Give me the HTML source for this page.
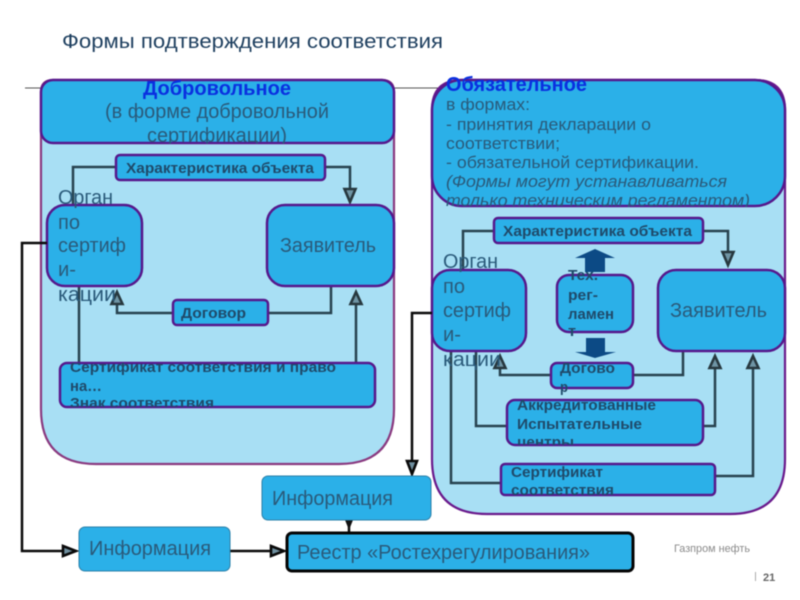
<!DOCTYPE html>
<html><head><meta charset="utf-8">
<style>
html,body{margin:0;padding:0;background:#fff;width:800px;height:600px;overflow:hidden}
svg{display:block;font-family:"Liberation Sans",sans-serif;filter:blur(0.45px)}
.o{fill:#a8dff4;stroke-width:2.2}
.b{fill:#2bb0e8;stroke:#56188c;stroke-width:2.5}
.i{fill:#2bb0e8;stroke:#2a7fa8;stroke-width:1}
.l{fill:none;stroke:#27424f;stroke-width:2.5}
.k{fill:none;stroke:#0a0a0a;stroke-width:2.5}
.a{fill:#6f95a5;stroke:#27383f;stroke-width:2.6}
.ak{fill:#6f8f9f;stroke:#0a0a0a;stroke-width:2.6}
.t{fill:#2a5a7a;font-size:20px}
.s{fill:#1f4a6a;font-size:14.5px;font-weight:bold}
.h{fill:#0a30e0;font-size:20px;font-weight:bold}
</style></head><body>
<svg width="800" height="600" viewBox="0 0 800 600" xmlns="http://www.w3.org/2000/svg">
<defs>
<clipPath id="c1"><rect x="41" y="70" width="353" height="73.5"/></clipPath>
<clipPath id="c2"><rect x="432" y="70" width="353" height="137"/></clipPath>
<clipPath id="c3"><rect x="60" y="363" width="315" height="44"/></clipPath>
<clipPath id="c4"><rect x="507" y="400" width="196" height="45"/></clipPath>
<clipPath id="c5"><rect x="501" y="464" width="214" height="32"/></clipPath>
</defs>

<text x="62" y="48" fill="#1f4060" font-size="20.5" textLength="381" lengthAdjust="spacingAndGlyphs">Формы подтверждения соответствия</text>
<line x1="25" y1="88" x2="445" y2="88" stroke="#555" stroke-width="1"/>

<!-- left panel -->
<path class="o" stroke="#8a3a80" d="M41 92 Q41 80 53 80 H382 Q394 80 394 92 V409 Q394 464 339 464 H96 Q41 464 41 409 Z"/>
<rect class="b" x="41" y="80" width="353" height="63" rx="12"/>
<g clip-path="url(#c1)">
<text class="h" x="143" y="95" textLength="148" lengthAdjust="spacingAndGlyphs">Добровольное</text>
<text class="t" x="105" y="118" textLength="224" lengthAdjust="spacingAndGlyphs">(в форме добровольной</text>
<text class="t" x="147" y="142" textLength="140" lengthAdjust="spacingAndGlyphs">сертификации)</text>
</g>

<path class="l" d="M116 167H73V205"/>
<path class="l" d="M325 167H350V190"/>
<path class="a" d="M344.5 189H355.5L350 202Z"/>
<path class="l" d="M173 313H117V300"/>
<path class="a" d="M117 292L122.500 304H111.500Z"/>
<path class="l" d="M268 313H331V286"/>
<path class="l" d="M356 363V300"/>
<path class="a" d="M356 292L361.500 304H350.500Z"/>
<path class="l" d="M79 363V286"/>

<rect class="b" x="116" y="155" width="209" height="25" rx="4"/>
<text class="s" x="126" y="173" textLength="188" lengthAdjust="spacingAndGlyphs">Характеристика объекта</text>
<rect class="b" x="47" y="205" width="95" height="81" rx="18"/>
<text class="t" x="58" y="204" textLength="55" lengthAdjust="spacingAndGlyphs">Орган</text>
<text class="t" x="58" y="229" textLength="22" lengthAdjust="spacingAndGlyphs">по</text>
<text class="t" x="58" y="252" textLength="68" lengthAdjust="spacingAndGlyphs">сертиф</text>
<text class="t" x="58" y="276" textLength="18" lengthAdjust="spacingAndGlyphs">и-</text>
<text class="t" x="58" y="301" textLength="58" lengthAdjust="spacingAndGlyphs">кации</text>
<rect class="b" x="267" y="205" width="127" height="81" rx="18"/>
<text class="t" x="280" y="252" textLength="96" lengthAdjust="spacingAndGlyphs">Заявитель</text>
<rect class="b" x="173" y="300" width="95" height="25" rx="4"/>
<text class="s" x="181" y="318" textLength="65" lengthAdjust="spacingAndGlyphs">Договор</text>
<rect class="b" x="60" y="363" width="315" height="44" rx="7"/>
<g clip-path="url(#c3)">
<text class="s" x="70" y="372" textLength="266" lengthAdjust="spacingAndGlyphs">Сертификат соответствия и право</text>
<text class="s" x="70" y="391" textLength="32" lengthAdjust="spacingAndGlyphs">на…</text>
<text class="s" x="70" y="408" textLength="144" lengthAdjust="spacingAndGlyphs">Знак соответствия</text>
</g>

<!-- right panel -->
<path class="o" stroke="#6a1a8c" d="M432 110 Q432 80 462 80 H755 Q785 80 785 110 V459 Q785 514 730 514 H487 Q432 514 432 459 Z"/>
<rect class="b" x="432" y="80" width="353" height="126" rx="30"/>
<g clip-path="url(#c2)">
<text class="h" x="446" y="91" textLength="141" lengthAdjust="spacingAndGlyphs">Обязательное</text>
<g fill="#2a5a7a" font-size="16.5">
<text x="446" y="110" textLength="84" lengthAdjust="spacingAndGlyphs">в формах:</text>
<text x="446" y="130" textLength="205" lengthAdjust="spacingAndGlyphs">- принятия декларации о</text>
<text x="446" y="149" textLength="114" lengthAdjust="spacingAndGlyphs">соответствии;</text>
<text x="446" y="168" textLength="253" lengthAdjust="spacingAndGlyphs">- обязательной сертификации.</text>
<text x="446" y="187" textLength="281" lengthAdjust="spacingAndGlyphs" font-style="italic">(Формы могут устанавливаться</text>
<text x="446" y="206" textLength="304" lengthAdjust="spacingAndGlyphs" font-style="italic">только техническим регламентом)</text>
</g>
</g>

<path class="l" d="M494 231H463V270"/>
<path class="l" d="M703 231H728V253"/>
<path class="a" d="M722.500 252H733.500L728 265Z"/>
<path class="l" d="M551 375H500V365"/>
<path class="a" d="M500 356L505.500 368H494.500Z"/>
<path class="l" d="M633 375H683V351"/>
<path class="l" d="M507 426H476V351"/>
<path class="l" d="M703 426H715V365"/>
<path class="a" d="M715 356L720.500 368H709.500Z"/>
<path class="l" d="M501 483H451V351"/>
<path class="l" d="M715 476H753V365"/>
<path class="a" d="M753 356L758.500 368H747.500Z"/>
<path d="M575 258L595 249L615 258H605V272H585V258Z" fill="#0c4a85"/>
<path d="M586 338H605V352H616L595 358L575 352H586Z" fill="#0c4a85"/>

<rect class="b" x="494" y="218" width="209" height="25" rx="4"/>
<text class="s" x="503" y="236" textLength="189" lengthAdjust="spacingAndGlyphs">Характеристика объекта</text>
<rect class="b" x="432" y="270" width="94" height="81" rx="18"/>
<text class="t" x="443" y="268" textLength="55" lengthAdjust="spacingAndGlyphs">Орган</text>
<text class="t" x="443" y="293" textLength="22" lengthAdjust="spacingAndGlyphs">по</text>
<text class="t" x="443" y="317" textLength="68" lengthAdjust="spacingAndGlyphs">сертиф</text>
<text class="t" x="443" y="341" textLength="18" lengthAdjust="spacingAndGlyphs">и-</text>
<text class="t" x="443" y="366" textLength="58" lengthAdjust="spacingAndGlyphs">кации</text>
<rect class="b" x="557" y="275" width="76" height="57" rx="12"/>
<text class="s" x="568" y="280" textLength="30" lengthAdjust="spacingAndGlyphs">Тех.</text>
<text class="s" x="568" y="300" textLength="30" lengthAdjust="spacingAndGlyphs">рег-</text>
<text class="s" x="568" y="319" textLength="46" lengthAdjust="spacingAndGlyphs">ламен</text>
<text class="s" x="568" y="336" textLength="8" lengthAdjust="spacingAndGlyphs">т</text>
<rect class="b" x="658" y="270" width="127" height="81" rx="18"/>
<text class="t" x="670" y="317" textLength="97" lengthAdjust="spacingAndGlyphs">Заявитель</text>
<rect class="b" x="551" y="363" width="82" height="25" rx="6"/>
<text class="s" x="560" y="373" textLength="55" lengthAdjust="spacingAndGlyphs">Догово</text>
<text class="s" x="560" y="392" textLength="8" lengthAdjust="spacingAndGlyphs">р</text>
<rect class="b" x="507" y="400" width="196" height="45" rx="8"/>
<g clip-path="url(#c4)">
<text class="s" x="517" y="410" textLength="139" lengthAdjust="spacingAndGlyphs">Аккредитованные</text>
<text class="s" x="517" y="429" textLength="125" lengthAdjust="spacingAndGlyphs">Испытательные</text>
<text class="s" x="517" y="447" textLength="57" lengthAdjust="spacingAndGlyphs">центры</text>
</g>
<rect class="b" x="501" y="464" width="214" height="31" rx="4"/>
<g clip-path="url(#c5)">
<text class="s" x="511" y="477" textLength="92" lengthAdjust="spacingAndGlyphs">Сертификат</text>
<text class="s" x="511" y="495" textLength="103" lengthAdjust="spacingAndGlyphs">соответствия</text>
</g>

<!-- black connectors -->
<path class="k" d="M47 243H22V551H64"/>
<path class="ak" d="M63 546L76 551L63 556Z"/>
<path class="k" d="M432 313H412V462"/>
<path class="ak" d="M407 461H417L412 474Z"/>
<path class="k" d="M230 551H272"/>
<path class="ak" d="M271 546L284 551L271 556Z"/>
<path class="k" d="M349 520V532"/>
<path d="M345 520H353L349 530Z" fill="#111"/>

<rect class="i" x="262" y="476" width="169" height="44" rx="6"/>
<text class="t" x="272" y="505" textLength="121" lengthAdjust="spacingAndGlyphs">Информация</text>
<rect class="i" x="79" y="527" width="151" height="44" rx="6"/>
<text class="t" x="89" y="555" textLength="122" lengthAdjust="spacingAndGlyphs">Информация</text>
<rect x="287" y="533" width="346" height="38" rx="5" fill="#2bb0e8" stroke="#050505" stroke-width="3"/>
<text x="297" y="559" fill="#2a5a7a" font-size="20" textLength="293" lengthAdjust="spacingAndGlyphs">Реестр «Ростехрегулирования»</text>

<text x="674" y="552" fill="#8a8a8a" font-size="11" textLength="76" lengthAdjust="spacingAndGlyphs">Газпром нефть</text>
<rect x="755" y="572" width="1" height="9" fill="#aaa"/>
<text x="763" y="581" fill="#666" font-size="11" font-weight="bold">21</text>
</svg>
</body></html>
